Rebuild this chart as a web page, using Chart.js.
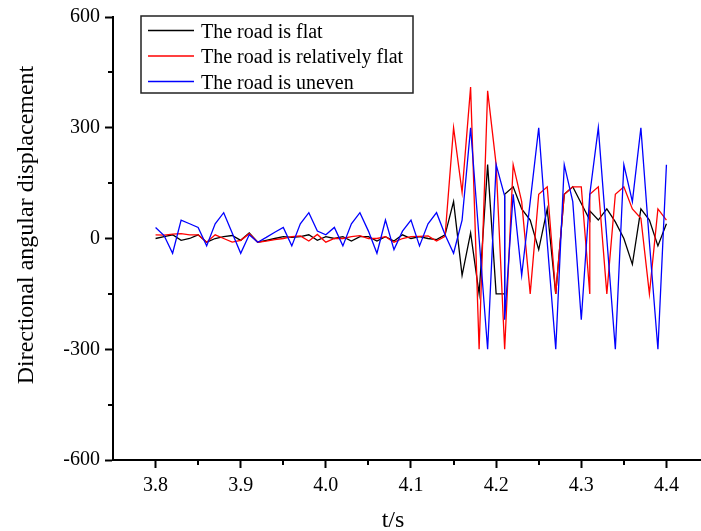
<!DOCTYPE html>
<html>
<head>
<meta charset="utf-8">
<script src="https://cdn.jsdelivr.net/npm/chart.js@4"></script>
<style>
  html, body { margin: 0; padding: 0; background: #fff; overflow: hidden; }
  #wrap { width: 709px; height: 531px; }
</style>
</head>
<body>
<div id="wrap"><canvas id="myChart" width="709" height="531"></canvas></div>
<script>
// time axis (s) - the recorder logged 4.21 and 4.31 twice
const times = [
  3.80, 3.81, 3.82, 3.83, 3.84, 3.85, 3.86, 3.87, 3.88, 3.89,
  3.90, 3.91, 3.92, 3.93, 3.94, 3.95, 3.96, 3.97, 3.98, 3.99,
  4.00, 4.01, 4.02, 4.03, 4.04, 4.05, 4.06, 4.07, 4.08, 4.09,
  4.10, 4.11, 4.12, 4.13, 4.14, 4.15, 4.16, 4.17, 4.18, 4.19,
  4.20, 4.21, 4.21, 4.22, 4.23, 4.24, 4.25, 4.26, 4.27, 4.28, 4.29,
  4.30, 4.31, 4.31, 4.32, 4.33, 4.34, 4.35, 4.36, 4.37, 4.38, 4.39, 4.40
];

const flat = [
  0, 5, 10, -5, 0, 10, -10, 0, 5, 8,
  -5, 15, -10, -5, 0, 5, 3, 5, 10, -5,
  5, 0, 5, -7, 5, 5, -7, 5, -7, 10,
  0, 5, 0, -3, 10, 100, -100, 15, -150, 200,
  -150, -150, 120, 140, 80, 50, -30, 80, -150, 120, 140,
  95, 50, 75, 50, 80, 45, 0, -70, 80, 50, -20, 40
];

const relativelyFlat = [
  10, 9, 12, 13, 10, 10, -10, 10, 0, -10,
  -5, 13, -10, -7, -3, 0, 5, 7, -7, 11,
  -10, 0, 0, 5, 8, 0, 0, 5, -10, 0,
  5, 6, 7, -7, 6, 300, 125, 410, -300, 400,
  200, -300, -300, 200, 100, -150, 120, 140, -150, 120, 140,
  140, -150, 120, 140, -150, 120, 140, 80, 55, -150, 80, 50
];

const uneven = [
  30, 8, -40, 50, 40, 30, -20, 40, 70, 15,
  -40, 10, -10, 3, 17, 30, -20, 40, 70, 20,
  10, 30, -20, 40, 70, 20, -40, 50, -30, 20,
  50, -20, 40, 70, 10, -40, 50, 300, 0, -300,
  200, 115, -220, 120, -100, 100, 300, -10, -300, 200, 100,
  -220, 120, 120, 300, 0, -300, 200, 100, 300, -10, -300, 200
];

const xTicks = [3.8, 3.9, 4.0, 4.1, 4.2, 4.3, 4.4];
const yTicks = [-600, -300, 0, 300, 600];

Chart.defaults.font.family = '"Liberation Serif", "Times New Roman", serif';
Chart.defaults.color = "#000";

// short ticks half way between the labelled ones
const minorTicks = {
  id: "minorTicks",
  afterDraw(chart) {
    const { ctx, scales: { x, y } } = chart;
    ctx.save();
    ctx.strokeStyle = "#000";
    ctx.lineWidth = 2;
    ctx.beginPath();
    for (let i = 0; i < xTicks.length - 1; i++) {
      const px = Math.round(x.getPixelForValue((xTicks[i] + xTicks[i + 1]) / 2));
      ctx.moveTo(px, x.top);
      ctx.lineTo(px, x.top + 5);
    }
    for (let i = 0; i < yTicks.length - 1; i++) {
      const py = Math.round(y.getPixelForValue((yTicks[i] + yTicks[i + 1]) / 2));
      ctx.moveTo(y.right, py);
      ctx.lineTo(y.right - 5, py);
    }
    ctx.stroke();
    ctx.restore();
  },
};

// legend box inside the plot + axis titles
const legendAndTitles = {
  id: "legendAndTitles",
  afterDraw(chart) {
    const ctx = chart.ctx;
    ctx.save();
    ctx.strokeStyle = "#222";
    ctx.lineWidth = 1.5;
    ctx.strokeRect(141, 16, 272, 77);
    ctx.font = '20px "Liberation Serif"';
    ctx.textBaseline = "alphabetic";
    chart.data.datasets.forEach((ds, i) => {
      const ly = 30.5 + i * 25.5;
      ctx.strokeStyle = ds.borderColor;
      ctx.lineWidth = 1.5;
      ctx.beginPath();
      ctx.moveTo(148, ly);
      ctx.lineTo(194, ly);
      ctx.stroke();
      ctx.fillStyle = "#000";
      ctx.fillText(ds.label, 201, ly + 7);
    });

    ctx.font = '24px "Liberation Serif"';
    ctx.textAlign = "center";
    ctx.fillText("t/s", 393, 527);
    ctx.translate(33, 225);
    ctx.rotate(-Math.PI / 2);
    ctx.fillText("Directional angular displacement", 0, 0);
    ctx.restore();
  },
};

const ctxChart = document.getElementById("myChart");

const angleChart = new Chart(ctxChart, {
  type: "line",
  data: {
    datasets: [
      {
        label: "The road is flat",
        data: times.map((t, i) => ({ x: t, y: flat[i] })),
        borderColor: "#000000",
        order: 3,
      },
      {
        label: "The road is relatively flat",
        data: times.map((t, i) => ({ x: t, y: relativelyFlat[i] })),
        borderColor: "#ff0000",
        order: 2,
      },
      {
        label: "The road is uneven",
        data: times.map((t, i) => ({ x: t, y: uneven[i] })),
        borderColor: "#0000ff",
        order: 1,
      },
    ],
  },
  options: {
    responsive: false,
    animation: false,
    layout: { padding: { top: 17, left: 0, right: 0, bottom: 0 } },
    elements: {
      point: { radius: 0 },
      line: { borderWidth: 1.3, tension: 0 },
    },
    plugins: {
      legend: { display: false },
      tooltip: { enabled: false },
    },
    scales: {
      x: {
        type: "linear",
        min: 3.75,
        max: 4.45,
        afterBuildTicks: (s) => { s.ticks = xTicks.map((v) => ({ value: v })); },
        afterFit: (s) => { s.height = 71; },
        grid: { drawOnChartArea: false, tickLength: 8, tickWidth: 2, tickColor: "#000" },
        border: { color: "#000", width: 2 },
        ticks: {
          font: { size: 20 },
          padding: 6,
          maxRotation: 0,
          autoSkip: false,
          callback: (v) => Number(v).toFixed(1),
        },
      },
      y: {
        min: -600,
        max: 600,
        afterBuildTicks: (s) => { s.ticks = yTicks.map((v) => ({ value: v })); },
        afterFit: (s) => { s.width = 113; },
        grid: { drawOnChartArea: false, tickLength: 8, tickWidth: 2, tickColor: "#000" },
        border: { color: "#000", width: 2 },
        ticks: {
          font: { size: 20 },
          padding: 5,
          callback: (v) => String(v),
        },
      },
    },
  },
  plugins: [minorTicks, legendAndTitles],
});
</script>
</body>
</html>
